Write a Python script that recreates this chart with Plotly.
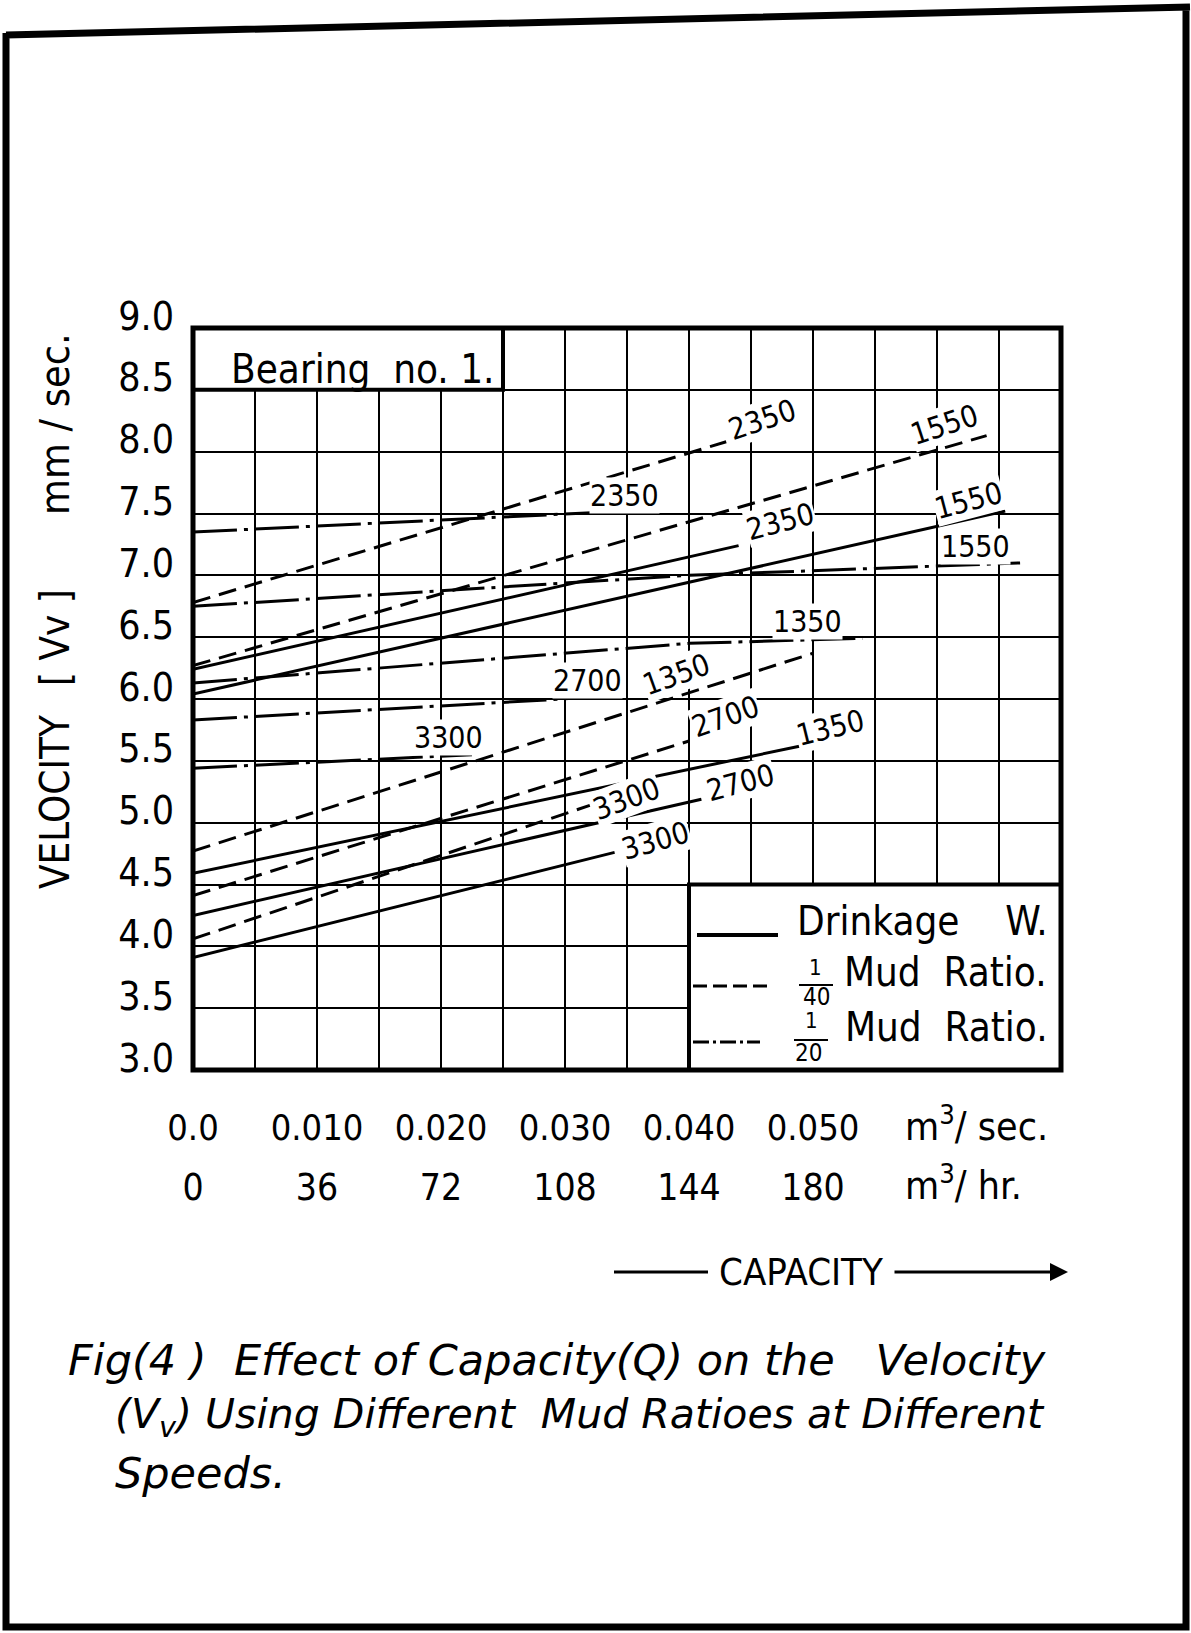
import math
import plotly.graph_objects as go

W, H = 1191, 1633

# ---------------- data ----------------
x_tick_vals = [0.0, 0.010, 0.020, 0.030, 0.040, 0.050]
x_tick_text = ["0.0", "0.010", "0.020", "0.030", "0.040", "0.050"]
x2_tick_vals = [0, 36, 72, 108, 144, 180]
x2_tick_text = ["0", "36", "72", "108", "144", "180"]
y_tick_vals = [3.0, 3.5, 4.0, 4.5, 5.0, 5.5, 6.0, 6.5, 7.0, 7.5, 8.0, 8.5, 9.0]
y_tick_text = ["3.0", "3.5", "4.0", "4.5", "5.0", "5.5", "6.0", "6.5", "7.0", "7.5", "8.0", "8.5", "9.0"]

# Drinkage W. (solid)
solid_speed = ["1550", "2350", "1350", "2700", "3300"]
solid_q = [[0.0, 0.0655], [0.0, 0.044], [0.0, 0.049], [0.0, 0.041], [0.0, 0.034]]
solid_v = [[6.04, 7.52], [6.24, 7.24], [4.59, 5.62], [4.25, 5.19], [3.91, 4.76]]

# 1/40 Mud Ratio (dashed)
dash_speed = ["2350", "1550", "1350", "2700", "3300"]
dash_q = [[0.0, 0.043], [0.0, 0.064], [0.0, 0.050], [0.0, 0.040], [0.0, 0.032]]
dash_v = [[6.78, 8.08], [6.27, 8.13], [4.77, 6.37], [4.41, 5.66], [4.06, 5.14]]

# 1/20 Mud Ratio (dash-dot)
dd_speed = ["2350", "1550", "1350", "2700", "3300"]
dd_q = [[0.0, 0.037], [0.0, 0.040, 0.0667], [0.0, 0.040, 0.054], [0.0, 0.035], [0.0, 0.0225]]
dd_v = [[7.35, 7.53], [6.75, 7.00, 7.10], [6.13, 6.45, 6.49], [5.83, 6.03], [5.44, 5.55]]

# ---------------- styling ----------------
NARROW = "Liberation Sans Narrow, DejaVu Sans Condensed, Liberation Sans, sans-serif"
X0, X1 = 193, 1061          # plot area in px
Y0, Y1 = 328, 1070
QMAX, VMIN, VMAX = 0.070, 3.0, 9.0
PXQ = (X1 - X0) / QMAX
PXV = (Y1 - Y0) / (VMAX - VMIN)

# label offsets (px) relative to line end: (xshift, yshift)
solid_lab = [(-37, 11), (42, 24), (30, 18), (39, 17), (41, 12)]
dash_lab = [(36, 22), (-42, 11), (-137, -21), (36, 25), (37, 7)]
dd_lab = [(-27, 14), (-45, 16), (-55, 17), (-40, 15), (-24, 17)]

DASH = "18px,9px"
DASHDOT = "44px,7px,4px,7px"

fig = go.Figure()

groups = [
    ("Drinkage W.", solid_speed, solid_q, solid_v, "solid", solid_lab, True),
    ("1/40 Mud Ratio.", dash_speed, dash_q, dash_v, DASH, dash_lab, True),
    ("1/20 Mud Ratio.", dd_speed, dd_q, dd_v, DASHDOT, dd_lab, False),
]

annotations = []
for name, spd, qs, vs, dash, labs, rotate in groups:
    for s, q, v, (dx, dy) in zip(spd, qs, vs, labs):
        fig.add_trace(go.Scatter(
            x=q, y=v, mode="lines", name=f"{name} {s}",
            line=dict(color="black", width=3, dash=dash),
            showlegend=False, hoverinfo="skip"))
        ang = 0
        if rotate:
            ang = -math.degrees(math.atan2((v[-1] - v[0]) * PXV, (q[-1] - q[0]) * PXQ)) - 2
        annotations.append(dict(
            x=q[-1], y=v[-1], xref="x", yref="y", text=s, showarrow=False,
            xshift=dx, yshift=dy, textangle=ang,
            font=dict(family=NARROW, size=30, color="black"),
            bgcolor="white", borderpad=0))

# empty trace to activate the m3/hr axis
fig.add_trace(go.Scatter(x=[], y=[], xaxis="x2", yaxis="y", showlegend=False))

def px(xp):
    return xp / W

def py(yp):
    return 1 - yp / H

shapes = []
# bearing box
shapes.append(dict(type="rect", xref="x", yref="y", x0=0, x1=0.025, y0=8.5, y1=9.0,
                   fillcolor="white", line=dict(color="black", width=4), layer="above"))
# legend box
shapes.append(dict(type="rect", xref="x", yref="y", x0=0.040, x1=0.070, y0=3.0, y1=4.5,
                   fillcolor="white", line=dict(color="black", width=4), layer="above"))
# plot frame
shapes.append(dict(type="rect", xref="x domain", yref="y domain", x0=0, x1=1, y0=0, y1=1,
                   line=dict(color="black", width=5), layer="above"))
# legend samples
shapes.append(dict(type="line", xref="paper", yref="paper", x0=px(697), x1=px(778), y0=py(935), y1=py(935),
                   line=dict(color="black", width=4), layer="above"))
shapes.append(dict(type="line", xref="paper", yref="paper", x0=px(693), x1=px(767), y0=py(986), y1=py(986),
                   line=dict(color="black", width=3, dash="14px,6px"), layer="above"))
shapes.append(dict(type="line", xref="paper", yref="paper", x0=px(693), x1=px(760), y0=py(1042), y1=py(1042),
                   line=dict(color="black", width=3, dash="16px,4px,3px,4px"), layer="above"))
# fraction bars
shapes.append(dict(type="line", xref="paper", yref="paper", x0=px(799), x1=px(833), y0=py(985), y1=py(985),
                   line=dict(color="black", width=2), layer="above"))
shapes.append(dict(type="line", xref="paper", yref="paper", x0=px(794), x1=px(828), y0=py(1040), y1=py(1040),
                   line=dict(color="black", width=2), layer="above"))
# capacity arrow lines
shapes.append(dict(type="line", xref="paper", yref="paper", x0=px(614), x1=px(708), y0=py(1272), y1=py(1272),
                   line=dict(color="black", width=3), layer="above"))
# page frame
shapes.append(dict(type="path", xref="paper", yref="paper",
                   path=f"M {px(6)} {py(35)} L {px(1190)} {py(7)} M {px(1186)} {py(7)} L {px(1186)} {py(1627)} "
                        f"L {px(6)} {py(1627)} L {px(6)} {py(33)}",
                   line=dict(color="black", width=7), layer="above"))

def txt(x, y, text, size, anchor="center", angle=0, family=NARROW, italic=False):
    annotations.append(dict(
        x=px(x), y=py(y), xref="paper", yref="paper", text=text, showarrow=False,
        xanchor=anchor, yanchor="middle", textangle=angle,
        font=dict(family=family, size=size, color="black", style="italic" if italic else "normal")))

txt(362, 369, "Bearing&nbsp; no.&nbsp;1.", 40)
# legend text
txt(795, 921, "Drinkage&nbsp;&nbsp;&nbsp; W.", 40, anchor="left")
txt(842, 972, "Mud&nbsp; Ratio.", 40, anchor="left")
txt(843, 1027, "Mud&nbsp; Ratio.", 40, anchor="left")
txt(815, 967, "1", 22)
txt(816, 997, "40", 24)
txt(811, 1021, "1", 22)
txt(808, 1053, "20", 24)
# axis unit texts
txt(903, 1124, "m<sup>3</sup>/ sec.", 39, anchor="left")
txt(903, 1183, "m<sup>3</sup>/ hr.", 39, anchor="left")
# y-axis title pieces
txt(55, 802, "VELOCITY", 40, angle=-90)
txt(55, 638, "[ Vv ]", 40, angle=-90)
txt(55, 424, "mm / sec.", 41, angle=-90)
# capacity
txt(801, 1272, "CAPACITY", 38)
annotations.append(dict(x=px(1068), y=py(1272), xref="paper", yref="paper", ax=-175, ay=0,
                        text="", showarrow=True, arrowhead=2,
                        arrowsize=1.2, arrowwidth=3, arrowcolor="black"))
# caption
CAP = "DejaVu Sans, Liberation Sans, sans-serif"
txt(66, 1360, "Fig(4 )&nbsp; Effect of Capacity(Q) on the&nbsp;&nbsp; Velocity", 43, anchor="left", family=CAP, italic=True)
txt(113, 1417, "(V<sub>v</sub>) Using Different&nbsp; Mud Ratioes at Different", 41, anchor="left", family=CAP, italic=True)
txt(113, 1473, "Speeds.", 43, anchor="left", family=CAP, italic=True)

fig.update_layout(
    width=W, height=H, margin=dict(l=0, r=0, t=0, b=0, autoexpand=False),
    paper_bgcolor="white", plot_bgcolor="white",
    showlegend=False,
    shapes=shapes, annotations=annotations,
    xaxis=dict(domain=[X0 / W, X1 / W], range=[0, QMAX], tickvals=x_tick_vals, ticktext=x_tick_text,
               showgrid=True, gridcolor="black", gridwidth=2, zeroline=False, showline=False, ticks="",
               minor=dict(dtick=0.005, showgrid=True, gridcolor="black", gridwidth=2), automargin=False,
               tickfont=dict(family=NARROW, size=36, color="black"), ticklabelstandoff=33),
    xaxis2=dict(overlaying="x", anchor="y", side="bottom", range=[0, QMAX * 3600], automargin=False,
                tickvals=x2_tick_vals, ticktext=x2_tick_text, showgrid=False, zeroline=False,
                showline=False, ticks="", tickfont=dict(family=NARROW, size=37, color="black"),
                ticklabelstandoff=92),
    yaxis=dict(domain=[1 - Y1 / H, 1 - Y0 / H], range=[VMIN, VMAX], tickvals=y_tick_vals, ticktext=y_tick_text,
               showgrid=True, gridcolor="black", gridwidth=2, zeroline=False, showline=False, ticks="",
               automargin=False,
               tickfont=dict(family=NARROW, size=39, color="black"), ticklabelstandoff=18, ticklabelshift=-12),
)

fig.write_html("out.html")
